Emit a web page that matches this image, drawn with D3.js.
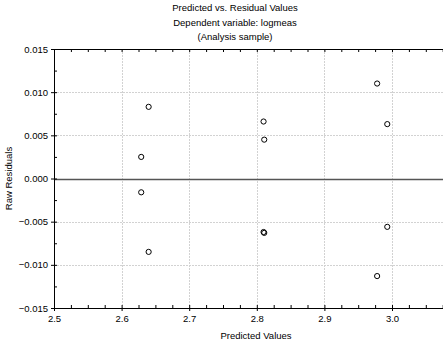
<!DOCTYPE html>
<html>
<head>
<meta charset="utf-8">
<script src="https://cdn.jsdelivr.net/npm/d3@7"></script>
<style>
  html, body { margin: 0; padding: 0; background: #fff; }
  svg { display: block; font-family: "Liberation Sans", Arial, sans-serif; }
</style>
</head>
<body>
<svg id="chart" width="443" height="347"></svg>
<script>
// Predicted values and raw residuals of the analysis sample
const predicted = [2.640, 2.629, 2.629, 2.640, 2.978, 2.810, 2.811, 2.993, 2.993, 2.810, 2.811, 2.978];
const residuals = [0.0083, 0.0025, -0.0016, -0.0085, 0.0110, 0.0066, 0.0045, 0.0063, -0.0056, -0.0062, -0.0063, -0.0113];

const xTicks = [2.5, 2.6, 2.7, 2.8, 2.9, 3.0];
const yTicks = [-0.015, -0.010, -0.005, 0.000, 0.005, 0.010, 0.015];
const titleLines = ["Predicted vs. Residual Values", "Dependent variable: logmeas", "(Analysis sample)"];

const svg = d3.select("#chart");
const plotLeft = 54, plotTop = 49, plotBottom = 308;
const pxPerTenth = 67.6;

const x = d3.scaleLinear().domain([2.5, 3.1]).range([plotLeft, plotLeft + 6 * pxPerTenth]);
const y = d3.scaleLinear().domain([-0.015, 0.015]).range([plotBottom, plotTop]);

const fs = "9.5px";

// grid
const grid = svg.append("g").attr("stroke", "#d2d2d2").attr("stroke-width", 1).attr("stroke-dasharray", "2,1");
grid.selectAll("line.gx").data(xTicks.slice(1)).join("line")
  .attr("x1", d => Math.round(x(d)) + 0.5).attr("x2", d => Math.round(x(d)) + 0.5)
  .attr("y1", plotTop).attr("y2", plotBottom);
grid.selectAll("line.gy").data(yTicks.filter(d => d !== 0 && Math.abs(d) < 0.015)).join("line")
  .attr("x1", plotLeft).attr("x2", 443)
  .attr("y1", d => Math.round(y(d)) + 0.5).attr("y2", d => Math.round(y(d)) + 0.5);

// zero reference line
svg.append("line")
  .attr("x1", plotLeft).attr("x2", 443)
  .attr("y1", Math.round(y(0)) + 0.5).attr("y2", Math.round(y(0)) + 0.5)
  .attr("stroke", "#555").attr("stroke-width", 1.5);

// axes
const fmtX = d3.format(".1f");
const fmtY = d3.format(".3f");

const xMinor = d3.range(2.5, 3.1001, 0.025).map(d => +d.toFixed(3));
const yMinor = d3.range(-0.015, 0.01501, 0.0025).map(d => +d.toFixed(4));

const bottomAxis = svg.append("g").attr("transform", `translate(0,${plotBottom})`)
  .call(d3.axisBottom(x).tickValues(xTicks).tickFormat(fmtX).tickSize(3).tickPadding(4));
const bottomMinor = svg.append("g").attr("transform", `translate(0,${plotBottom})`)
  .call(d3.axisBottom(x).tickValues(xMinor).tickFormat("").tickSize(-3).tickSizeOuter(0));
const topAxis = svg.append("g").attr("transform", `translate(0,${plotTop})`)
  .call(d3.axisTop(x).tickValues(xMinor).tickFormat("").tickSize(-3).tickSizeOuter(0));
const leftAxis = svg.append("g").attr("transform", `translate(${plotLeft},0)`)
  .call(d3.axisLeft(y).tickValues(yTicks).tickFormat(fmtY).tickSize(3).tickPadding(3).tickSizeOuter(0));
const leftMinor = svg.append("g").attr("transform", `translate(${plotLeft},0)`)
  .call(d3.axisLeft(y).tickValues(yMinor).tickFormat("").tickSize(-3).tickSizeOuter(0));

[bottomAxis, bottomMinor, topAxis, leftAxis, leftMinor].forEach(g => {
  g.select(".domain").attr("stroke", "#000");
  g.selectAll(".tick line").attr("stroke", "#000");
  g.selectAll("text").attr("fill", "#000").style("font-size", fs).style("font-family", "'Liberation Sans', Arial, sans-serif");
});
bottomAxis.selectAll("text").attr("dy", "0.71em");

// points
svg.append("g").selectAll("circle").data(predicted).join("circle")
  .attr("cx", (d, i) => x(d))
  .attr("cy", (d, i) => y(residuals[i]))
  .attr("r", 2.6)
  .attr("fill", "none")
  .attr("stroke", "#000")
  .attr("stroke-width", 1);

// titles
svg.append("g").selectAll("text").data(titleLines).join("text")
  .attr("x", 235).attr("y", (d, i) => 11 + i * 14.5)
  .attr("text-anchor", "middle")
  .style("font-size", fs)
  .text(d => d);

svg.append("text")
  .attr("x", 256).attr("y", 339)
  .attr("text-anchor", "middle")
  .style("font-size", fs)
  .text("Predicted Values");

svg.append("text")
  .attr("transform", `translate(12,${y(0)}) rotate(-90)`)
  .attr("text-anchor", "middle")
  .style("font-size", fs)
  .text("Raw Residuals");
</script>
</body>
</html>
